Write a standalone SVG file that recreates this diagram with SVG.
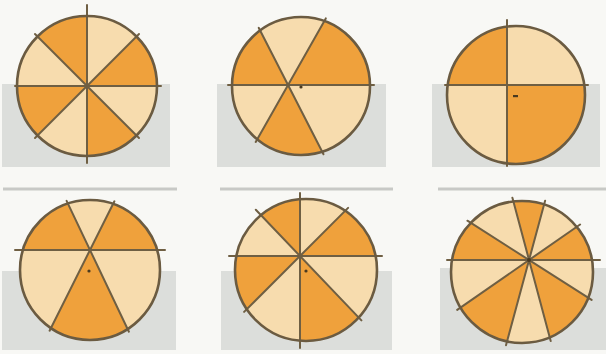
<svg xmlns="http://www.w3.org/2000/svg" width="606" height="354" viewBox="0 0 606 354">
  <style>
    .bg { fill: #dcdedb; }
    .rule { stroke: #c8c9c6; stroke-width: 3; }
    .light { fill: #f7dcae; }
    .orange { fill: #efa13c; }
    .div { stroke: #6f5f43; stroke-width: 2; stroke-linecap: round; fill: none; }
    .rim { stroke: #6b5b41; stroke-width: 2.6; fill: none; }
    .dot { fill: #4a3a20; }
  </style>
  <defs>
    <clipPath id="c1"><circle cx="87" cy="86" r="70"/></clipPath>
    <clipPath id="c2"><circle cx="301" cy="86" r="69"/></clipPath>
    <clipPath id="c3"><circle cx="516" cy="95" r="69"/></clipPath>
    <clipPath id="c4"><circle cx="90" cy="270" r="70"/></clipPath>
    <clipPath id="c5"><circle cx="306" cy="270" r="71"/></clipPath>
    <clipPath id="c6"><circle cx="522" cy="272" r="71"/></clipPath>
  </defs>

  <rect x="0" y="0" width="606" height="354" fill="#f8f8f5"/>

  <g id="backdrop">
    <rect class="bg" x="2" y="84" width="168" height="83"/>
    <rect class="bg" x="217" y="84" width="169" height="83"/>
    <rect class="bg" x="432" y="84" width="168" height="83"/>
    <rect class="bg" x="2" y="271" width="174" height="79"/>
    <rect class="bg" x="221" y="271" width="171" height="79"/>
    <rect class="bg" x="440" y="268" width="166" height="82"/>
    <line class="rule" x1="3" y1="189" x2="177" y2="189"/>
    <line class="rule" x1="220" y1="189" x2="393" y2="189"/>
    <line class="rule" x1="438" y1="189" x2="606" y2="189"/>
  </g>

  <g id="circle1">
    <circle class="light" cx="87" cy="86" r="70"/>
    <g clip-path="url(#c1)" class="orange">
      <polygon points="87,86 87,-64 -19,-20"/>
      <polygon points="87,86 -63,86 -19,192"/>
      <polygon points="87,86 87,236 193,192"/>
      <polygon points="87,86 237,86 193,-20"/>
    </g>
    <line class="div" x1="87" y1="5" x2="87" y2="163"/>
    <line class="div" x1="15" y1="86" x2="161" y2="86"/>
    <line class="div" x1="35" y1="34" x2="139" y2="138"/>
    <line class="div" x1="139" y1="34" x2="35" y2="138"/>
    <circle class="rim" cx="87" cy="86" r="70"/>
  </g>

  <g id="circle2">
    <circle class="light" cx="301" cy="86" r="69"/>
    <g clip-path="url(#c2)" class="orange">
      <polygon points="288,85 219.6,-48.5 138,85"/>
      <polygon points="288,85 362.1,-45.5 438,85"/>
      <polygon points="288,85 213.9,215.5 356.4,218.5"/>
    </g>
    <line class="div" x1="228" y1="85" x2="374" y2="85"/>
    <line class="div" x1="258.7" y1="27.8" x2="323.5" y2="154.3"/>
    <line class="div" x1="325.8" y1="18.4" x2="255.7" y2="141.9"/>
    <circle class="rim" cx="301" cy="86" r="69"/>
    <circle class="dot" cx="301" cy="87" r="1.6"/>
  </g>

  <g id="circle3">
    <circle class="light" cx="516" cy="95" r="69"/>
    <g clip-path="url(#c3)" class="orange">
      <rect x="440" y="20" width="67" height="65"/>
      <rect x="507" y="85" width="90" height="90"/>
    </g>
    <line class="div" x1="507" y1="20" x2="507" y2="166"/>
    <line class="div" x1="445" y1="85" x2="588" y2="85"/>
    <circle class="rim" cx="516" cy="95" r="69"/>
    <rect class="dot" x="513" y="95" width="5" height="2.2"/>
  </g>

  <g id="circle4">
    <circle class="light" cx="90" cy="270" r="70"/>
    <g clip-path="url(#c4)" class="orange">
      <polygon points="90,250 25.5,114.5 -60,250"/>
      <polygon points="90,250 157,115.9 240,250"/>
      <polygon points="90,250 23,384.1 154.5,385.5"/>
    </g>
    <line class="div" x1="15" y1="250" x2="165" y2="250"/>
    <line class="div" x1="66.6" y1="200.9" x2="128.9" y2="331.7"/>
    <line class="div" x1="114.4" y1="201.3" x2="49.6" y2="330.7"/>
    <circle class="rim" cx="90" cy="270" r="70"/>
    <circle class="dot" cx="89" cy="271" r="1.6"/>
  </g>

  <g id="circle5">
    <circle class="light" cx="306" cy="270" r="71"/>
    <g clip-path="url(#c5)" class="orange">
      <polygon points="300,256 196.5,147.4 300,106"/>
      <polygon points="300,256 406.1,149.9 450,256"/>
      <polygon points="300,256 403.5,364.6 300,406"/>
      <polygon points="300,256 193.9,362.1 150,256"/>
    </g>
    <line class="div" x1="300" y1="193" x2="300" y2="348"/>
    <line class="div" x1="229" y1="256" x2="382" y2="256"/>
    <line class="div" x1="255.8" y1="209.7" x2="361.4" y2="320.4"/>
    <line class="div" x1="348.1" y1="207.9" x2="244.1" y2="311.9"/>
    <circle class="rim" cx="306" cy="270" r="71"/>
    <circle class="dot" cx="306" cy="271" r="1.6"/>
  </g>

  <g id="circle6">
    <circle class="light" cx="522" cy="272" r="71"/>
    <g clip-path="url(#c6)" class="orange">
      <polygon points="529,260 655.5,340.7 567.7,404.9"/>
      <polygon points="529,260 489.8,404.8 405.8,345.7"/>
      <polygon points="529,260 379,260 402.6,179.3"/>
      <polygon points="529,260 490.3,115.1 568.2,115.3"/>
      <polygon points="529,260 652.2,174.4 679,260"/>
    </g>
    <line class="div" x1="447" y1="260" x2="600" y2="260"/>
    <line class="div" x1="512.4" y1="197.7" x2="550.7" y2="341.1"/>
    <line class="div" x1="545.1" y1="200.7" x2="506" y2="345.2"/>
    <line class="div" x1="467.4" y1="220.7" x2="591.6" y2="299.9"/>
    <line class="div" x1="580.1" y1="224.5" x2="457.2" y2="309.9"/>
    <circle class="rim" cx="522" cy="272" r="71"/>
    <circle class="dot" cx="529" cy="260" r="2"/>
  </g>
</svg>
